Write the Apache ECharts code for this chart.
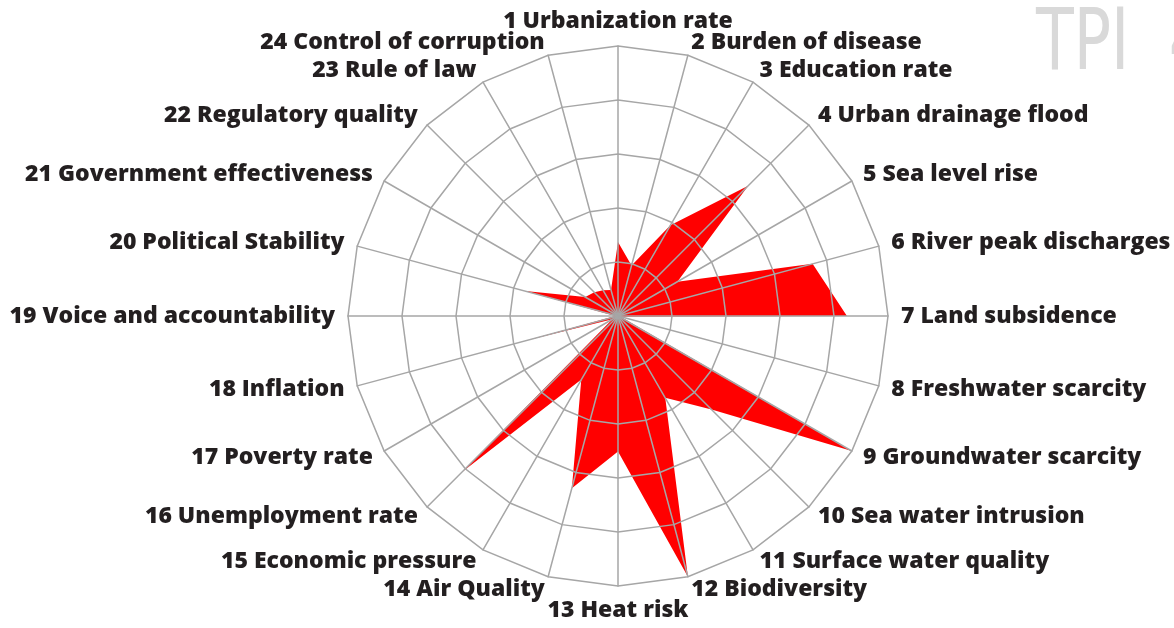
<!DOCTYPE html>
<html>
<head>
<meta charset="utf-8">
<script src="https://cdn.jsdelivr.net/npm/echarts@6/dist/echarts.min.js"></script>
<style>
html, body { margin: 0; padding: 0; background: #fff; }
#main { width: 1174px; height: 628px; }
</style>
</head>
<body>
<div id="main"></div>
<script>
// 指标名称（顺时针，从顶部开始）
var categories = [
    '1 Urbanization rate', '2 Burden of disease', '3 Education rate', '4 Urban drainage flood',
    '5 Sea level rise', '6 River peak discharges', '7 Land subsidence', '8 Freshwater scarcity',
    '9 Groundwater scarcity', '10 Sea water intrusion', '11 Surface water quality', '12 Biodiversity',
    '13 Heat risk', '14 Air Quality', '15 Economic pressure', '16 Unemployment rate',
    '17 Poverty rate', '18 Inflation', '19 Voice and accountability', '20 Political Stability',
    '21 Government effectiveness', '22 Regulatory quality', '23 Rule of law', '24 Control of corruption'
];
// 每个指标的得分（0-5）
var scores = [
    1.37, 0.97, 1.94, 3.41,
    1.27, 3.73, 4.24, 0.05,
    5.0, 2.45, 1.75, 5.0,
    2.51, 3.3, 1.36, 4.1,
    0.12, 1.72, 0.05, 1.78,
    0.7, 0.62, 0.55, 0.5
];
var maxScore = 5;
var titleText = 'TPI  4';

// echarts 雷达图是逆时针排的，这里把顺序倒过来（第一个保持在顶部）
function clockwise(arr) {
    var out = [arr[0]];
    for (var i = arr.length - 1; i > 0; i--) {
        out.push(arr[i]);
    }
    return out;
}

var indicator = clockwise(categories).map(function (name) {
    return { name: name, min: 0, max: maxScore };
});

var chart = echarts.init(document.getElementById('main'));
chart.setOption({
    animation: false,
    graphic: [{
        type: 'text',
        x: 1036,
        y: 4,
        scaleX: 0.8,
        style: {
            text: titleText,
            fill: '#d9d9d9',
            font: 'normal 86px "Liberation Sans Narrow", "DejaVu Sans Condensed", sans-serif'
        }
    }],
    radar: {
        center: [618, 316],
        radius: 270,
        startAngle: 90,
        shape: 'polygon',
        splitNumber: 5,
        z: 3,
        indicator: indicator,
        axisName: {
            color: '#231f20',
            fontFamily: 'Open Sans',
            fontWeight: 800,
            fontSize: 23
        },
        nameGap: 13,
        axisLine: { lineStyle: { color: '#a6a6a6', width: 1.5 } },
        splitLine: { lineStyle: { color: '#a6a6a6', width: 1.5 } },
        splitArea: { show: false }
    },
    series: [{
        type: 'radar',
        z: 2,
        symbol: 'none',
        lineStyle: { width: 0 },
        areaStyle: { color: '#ff0000', opacity: 1 },
        data: [{ value: clockwise(scores) }]
    }]
});
</script>
</body>
</html>
